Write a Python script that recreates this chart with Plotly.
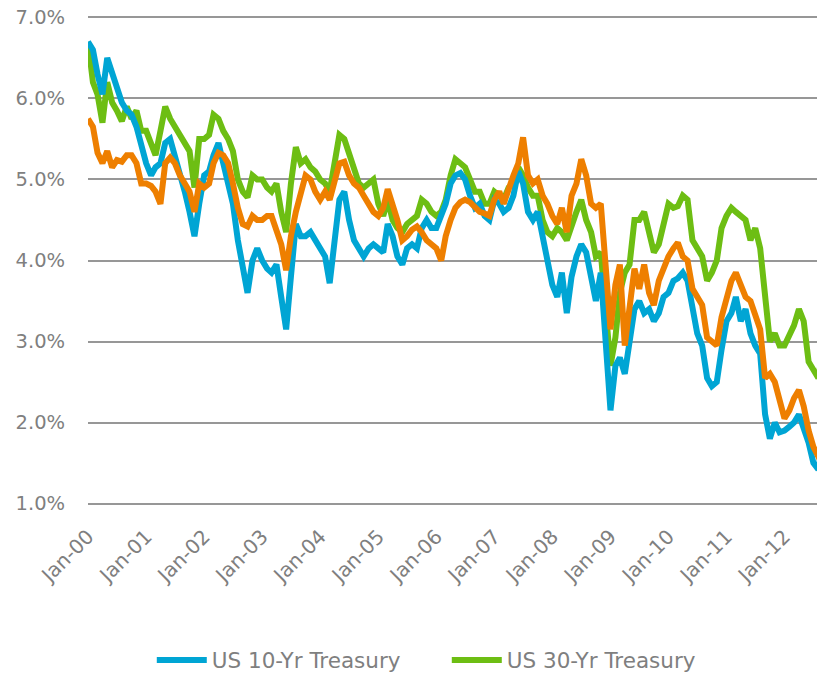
import pandas as pd
import plotly.graph_objects as go

# Monthly observations, Jan-2000 .. Sep-2012 (yield, %)
dates = pd.date_range("2000-01-01", periods=153, freq="MS")

us10 = [
    6.70, 6.60, 6.30, 6.05, 6.50, 6.30, 6.15, 5.95, 5.85, 5.80, 5.65, 5.40,  # 2000
    5.20, 5.05, 5.15, 5.20, 5.45, 5.50, 5.30, 5.10, 4.85, 4.60, 4.30, 4.70,  # 2001
    5.05, 5.10, 5.30, 5.45, 5.20, 5.00, 4.70, 4.25, 3.95, 3.60, 4.00, 4.15,  # 2002
    4.00, 3.90, 3.85, 3.95, 3.55, 3.15, 3.80, 4.45, 4.30, 4.30, 4.35, 4.25,  # 2003
    4.15, 4.05, 3.72, 4.30, 4.75, 4.85, 4.50, 4.25, 4.15, 4.05, 4.15, 4.20,  # 2004
    4.15, 4.10, 4.45, 4.30, 4.05, 3.95, 4.15, 4.20, 4.15, 4.40, 4.50, 4.40,  # 2005
    4.40, 4.55, 4.70, 4.95, 5.05, 5.08, 5.00, 4.80, 4.65, 4.70, 4.55, 4.50,  # 2006
    4.75, 4.70, 4.60, 4.65, 4.80, 5.10, 4.95, 4.60, 4.50, 4.60, 4.30, 4.00,  # 2007
    3.70, 3.55, 3.85, 3.35, 3.80, 4.05, 4.20, 4.10, 3.80, 3.50, 3.85, 3.00,  # 2008
    2.15, 2.70, 2.80, 2.60, 3.00, 3.40, 3.50, 3.35, 3.40, 3.25, 3.35, 3.55,  # 2009
    3.60, 3.75, 3.78, 3.85, 3.75, 3.40, 3.10, 2.95, 2.55, 2.45, 2.50, 2.90,  # 2010
    3.25, 3.35, 3.55, 3.25, 3.40, 3.10, 2.95, 2.85, 2.10, 1.80, 2.00, 1.88,  # 2011
    1.90, 1.95, 2.00, 2.10, 1.95, 1.75, 1.50, 1.42, 1.83,                    # 2012
]

us30 = [
    6.70, 6.20, 6.05, 5.70, 6.20, 5.95, 5.85, 5.72, 5.90, 5.75, 5.85, 5.60,  # 2000
    5.60, 5.42, 5.30, 5.60, 5.90, 5.75, 5.65, 5.52, 5.45, 5.35, 4.90, 5.50,  # 2001
    5.50, 5.55, 5.80, 5.75, 5.60, 5.50, 5.35, 5.00, 4.85, 4.78, 5.05, 5.00,  # 2002
    5.00, 4.90, 4.85, 4.95, 4.60, 4.35, 4.95, 5.40, 5.20, 5.25, 5.15, 5.10,  # 2003
    5.00, 4.95, 4.85, 5.20, 5.55, 5.50, 5.30, 5.10, 4.95, 4.90, 4.95, 5.00,  # 2004
    4.70, 4.55, 4.75, 4.50, 4.40, 4.35, 4.45, 4.50, 4.55, 4.75, 4.70, 4.60,  # 2005
    4.55, 4.60, 4.75, 5.05, 5.25, 5.20, 5.15, 5.00, 4.85, 4.85, 4.70, 4.70,  # 2006
    4.85, 4.80, 4.75, 4.90, 4.95, 5.15, 5.05, 4.90, 4.80, 4.80, 4.50, 4.35,  # 2007
    4.30, 4.40, 4.35, 4.25, 4.45, 4.60, 4.75, 4.50, 4.35, 4.05, 4.10, 3.40,  # 2008
    2.70, 3.05, 3.60, 3.85, 3.95, 4.50, 4.50, 4.60, 4.35, 4.10, 4.20, 4.45,  # 2009
    4.70, 4.65, 4.67, 4.80, 4.75, 4.25, 4.15, 4.05, 3.75, 3.85, 4.00, 4.40,  # 2010
    4.55, 4.65, 4.60, 4.55, 4.50, 4.25, 4.40, 4.15, 3.55, 3.00, 3.10, 2.95,  # 2011
    2.95, 3.07, 3.20, 3.40, 3.25, 2.75, 2.65, 2.55, 2.94,                    # 2012
]

third = [
    5.75, 5.65, 5.33, 5.20, 5.35, 5.15, 5.24, 5.22, 5.30, 5.30, 5.20, 4.95,  # 2000
    4.95, 4.92, 4.85, 4.70, 5.20, 5.27, 5.20, 5.05, 4.95, 4.85, 4.60, 4.95,  # 2001
    4.90, 4.95, 5.20, 5.33, 5.30, 5.20, 4.95, 4.65, 4.45, 4.42, 4.55, 4.50,  # 2002
    4.50, 4.55, 4.55, 4.35, 4.20, 3.88, 4.30, 4.60, 4.85, 5.05, 5.00, 4.85,  # 2003
    4.75, 4.85, 4.75, 5.00, 5.20, 5.22, 5.05, 4.95, 4.90, 4.80, 4.70, 4.60,  # 2004
    4.55, 4.65, 4.88, 4.70, 4.50, 4.25, 4.30, 4.38, 4.42, 4.35, 4.25, 4.20,  # 2005
    4.15, 4.00, 4.30, 4.50, 4.65, 4.72, 4.75, 4.72, 4.65, 4.60, 4.58, 4.55,  # 2006
    4.75, 4.85, 4.70, 4.90, 5.05, 5.20, 5.52, 5.05, 4.95, 5.00, 4.80, 4.70,  # 2007
    4.55, 4.45, 4.65, 4.35, 4.80, 4.95, 5.25, 5.05, 4.70, 4.65, 4.70, 3.95,  # 2008
    3.15, 3.70, 3.95, 2.95, 3.45, 3.90, 3.65, 3.95, 3.60, 3.45, 3.75, 3.90,  # 2009
    4.05, 4.15, 4.22, 4.05, 4.00, 3.65, 3.55, 3.45, 3.05, 3.00, 2.95, 3.30,  # 2010
    3.55, 3.75, 3.85, 3.70, 3.55, 3.50, 3.35, 3.15, 2.55, 2.60, 2.50, 2.30,  # 2011
    2.05, 2.15, 2.30, 2.40, 2.20, 1.90, 1.70, 1.58, 1.67,                    # 2012
]

tick_dates = [f"{y}-01-01" for y in range(2000, 2013)]
tick_text = [f"Jan-{y % 100:02d}" for y in range(2000, 2013)]
y_ticks = [1, 2, 3, 4, 5, 6, 7]
y_text = [f"{v:.1f}%" for v in y_ticks]

BLUE = "#00A5D4"
GREEN = "#6DBE13"
ORANGE = "#EE7F00"
GREY = "#7F7F7F"
FONT = "DejaVu Sans"

fig = go.Figure()
fig.add_trace(go.Scatter(x=dates, y=us30, mode="lines", name="US 30-Yr Treasury",
                         line=dict(color=GREEN, width=6), legendrank=2))
fig.add_trace(go.Scatter(x=dates, y=us10, mode="lines", name="US 10-Yr Treasury",
                         line=dict(color=BLUE, width=6), legendrank=1))
fig.add_trace(go.Scatter(x=dates, y=third, mode="lines", name="Third series",
                         line=dict(color=ORANGE, width=6), showlegend=False))

# page body adds an 8px offset, so the figure is 8px smaller than the window
fig.update_layout(
    width=817, height=666,
    margin=dict(l=80, r=0, t=7, b=168, autoexpand=False),
    paper_bgcolor="white", plot_bgcolor="white",
    font=dict(family=FONT, size=20, color=GREY),
    showlegend=True,
    legend=dict(orientation="h", xref="container", yref="container",
                x=0.176, xanchor="left", y=0.021, yanchor="middle",
                font=dict(family=FONT, size=21.5, color=GREY),
                itemwidth=50, entrywidth=230, entrywidthmode="pixels",
                tracegroupgap=0, traceorder="normal"),
)
fig.update_xaxes(
    type="date", range=["2000-01-01", "2012-09-12"], automargin=False,
    tickmode="array", tickvals=tick_dates, ticktext=tick_text,
    tickangle=-45, tickfont=dict(family=FONT, size=20, color=GREY),
    showgrid=False, zeroline=False, showline=False,
    ticks="outside", ticklen=10, tickcolor="rgba(0,0,0,0)",
    ticklabeloverflow="allow",
)
fig.update_yaxes(
    range=[0.97, 7.03], automargin=False, tickmode="array",
    tickvals=y_ticks, ticktext=y_text,
    tickfont=dict(family=FONT, size=19.5, color=GREY),
    showgrid=True, gridcolor="#979797", gridwidth=2,
    zeroline=False, showline=False,
    ticks="outside", ticklen=18, tickcolor="rgba(0,0,0,0)",
    ticklabeloverflow="allow",
)

fig.write_html("out.html")
